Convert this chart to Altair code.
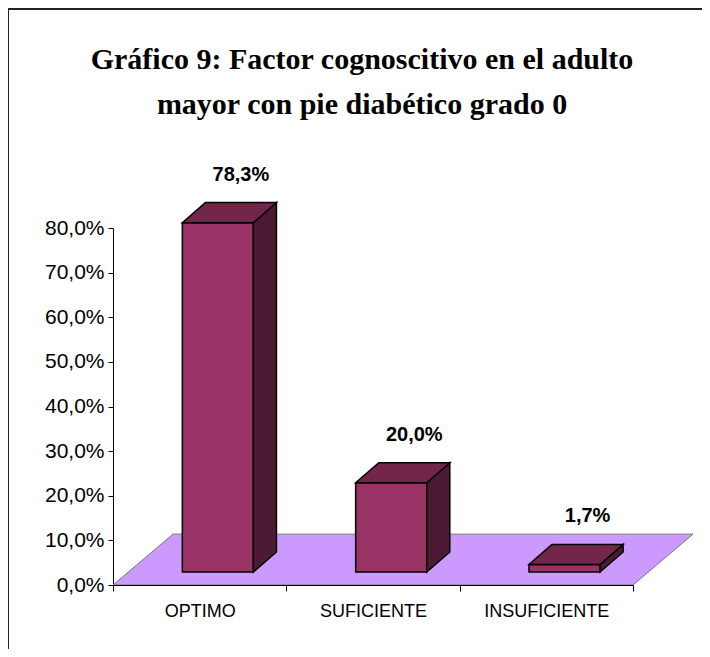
import altair as alt
import pandas as pd

# ---- data ----
categories = ["OPTIMO", "SUFICIENTE", "INSUFICIENTE"]
values = [78.3, 20.0, 1.7]
value_labels = ["78,3%", "20,0%", "1,7%"]
y_ticks = [0, 10, 20, 30, 40, 50, 60, 70, 80]
title_lines = ["Gráfico 9: Factor cognoscitivo en el adulto",
               "mayor con pie diabético grado 0"]

# ---- 3D geometry parameters (data units: category index / percent) ----
BAR_W = 0.41      # bar front width (fraction of a category band)
SHIFT = 0.105     # bar front shifted right from band centre (sits mid-depth)
BASE = 2.9        # bar front base above the floor front edge (%)
DDX = 0.133       # bar depth, horizontal
DDY = 4.5         # bar depth, vertical (%)
FLOOR_DX = 0.346  # floor depth, horizontal
FLOOR_DY = 11.4   # floor depth, vertical (%)
NCAT = len(categories)

FRONT = "#993366"
TOP = "#732649"
SIDE = "#4d1a33"
FLOOR = "#cc99ff"

front_rows, top_rows, side_rows, label_rows = [], [], [], []
for i, (c, v, lab) in enumerate(zip(categories, values, value_labels)):
    x0 = i + 0.5 + SHIFT - BAR_W / 2
    x1 = i + 0.5 + SHIFT + BAR_W / 2
    top = BASE + v
    front_rows.append(dict(cat=c, x0=x0, x1=x1, y0=BASE, y1=top))
    top_rows += [dict(cat=c, yy=top, xa=x0, xb=x1),
                 dict(cat=c, yy=top + DDY, xa=x0 + DDX, xb=x1 + DDX)]
    side_rows += [dict(cat=c, xs=x1, ya=BASE, yb=top),
                  dict(cat=c, xs=x1 + DDX, ya=BASE + DDY, yb=top + DDY)]
    label_rows.append(dict(cat=c, lx=(x0 + x1) / 2 + DDX, ly=top + DDY, label=lab))

floor_df = pd.DataFrame([dict(yy=0, xa=0, xb=NCAT),
                         dict(yy=FLOOR_DY, xa=FLOOR_DX, xb=NCAT + FLOOR_DX)])
front_df = pd.DataFrame(front_rows)
top_df = pd.DataFrame(top_rows)
side_df = pd.DataFrame(side_rows)
label_df = pd.DataFrame(label_rows)
cat_df = pd.DataFrame({"cat": categories})

xq = alt.Scale(domain=[0, NCAT], nice=False, zero=False)
yq = alt.Scale(domain=[0, 80], nice=False, zero=False)

yaxis = alt.Axis(values=y_ticks, grid=False, title=None,
                 labelExpr="replace(format(datum.value/100,'.1%'),'.',',')",
                 labelFont="Liberation Sans", labelFontSize=21, labelColor="black",
                 domainColor="black", tickColor="black", tickSize=5, labelPadding=4,
                 domainWidth=1, tickWidth=1)

floor = alt.Chart(floor_df).mark_area(
    orient="horizontal", color=FLOOR, stroke="#777777", strokeWidth=1, opacity=1
).encode(
    y=alt.Y("yy:Q", scale=yq, axis=yaxis),
    x=alt.X("xa:Q", scale=xq, axis=None),
    x2="xb:Q",
)

front = alt.Chart(front_df).mark_rect(
    fill=FRONT, stroke="black", strokeWidth=1.5
).encode(
    x=alt.X("x0:Q", scale=xq, axis=None), x2="x1:Q",
    y=alt.Y("y0:Q", scale=yq), y2="y1:Q",
)

side = alt.Chart(side_df).mark_area(
    orient="vertical", fill=SIDE, stroke="black", strokeWidth=1.5, opacity=1
).encode(
    x=alt.X("xs:Q", scale=xq, axis=None),
    y=alt.Y("ya:Q", scale=yq), y2="yb:Q",
    detail="cat:N",
)

topf = alt.Chart(top_df).mark_area(
    orient="horizontal", fill=TOP, stroke="black", strokeWidth=1.5, opacity=1
).encode(
    y=alt.Y("yy:Q", scale=yq),
    x=alt.X("xa:Q", scale=xq, axis=None), x2="xb:Q",
    detail="cat:N",
)

labels = alt.Chart(label_df).mark_text(
    font="Liberation Sans", fontSize=20, fontWeight="bold", color="black",
    dy=-28, baseline="middle", align="center"
).encode(
    x=alt.X("lx:Q", scale=xq, axis=None),
    y=alt.Y("ly:Q", scale=yq),
    text="label:N",
)

shapes = alt.layer(floor, front, side, topf, labels)

cat_axis = alt.Chart(cat_df).mark_point(opacity=0).encode(
    x=alt.X("cat:N", sort=categories,
            scale=alt.Scale(paddingInner=0, paddingOuter=0),
            axis=alt.Axis(title=None, labelAngle=0, tickBand="extent",
                          labelFont="Liberation Sans", labelFontSize=18,
                          labelColor="black", domainColor="black",
                          tickColor="black", tickSize=6, labelPadding=11,
                          zindex=1)),
)

border = alt.Chart(pd.DataFrame({"k": [0]})).mark_rect(
    fill=None, stroke="#222222", strokeWidth=2
).encode(
    x=alt.value(-105), x2=alt.value(900), y=alt.value(-219), y2=alt.value(900)
)

chart = alt.layer(shapes, cat_axis, border).resolve_scale(x="independent").properties(
    width=520, height=357,
    autosize=alt.AutoSizeParams(type="none"),
    padding={"left": 105, "top": 220, "right": 69, "bottom": 64},
    title=alt.TitleParams(
        text=title_lines, font="Liberation Serif", fontSize=30,
        fontWeight="bold", color="black", anchor="middle", frame="group",
        lineHeight=45, offset=-112, dx=-11,
    ),
).configure(background="white").configure_view(stroke=None)

chart.save("out.html", embed_options={"renderer": "svg", "actions": False})
